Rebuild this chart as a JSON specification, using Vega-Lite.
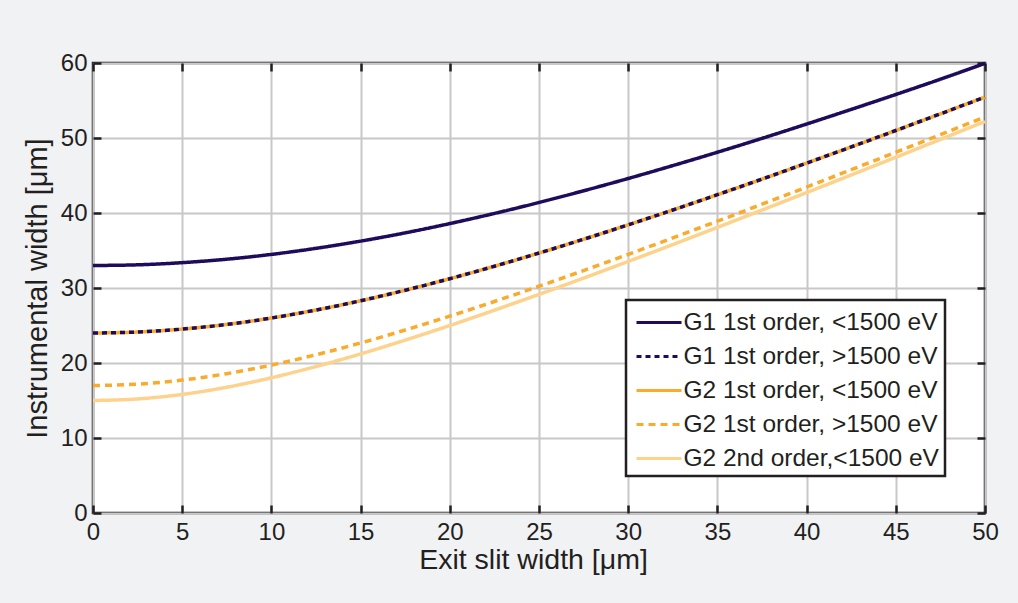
{
  "$schema": "https://vega.github.io/schema/vega-lite/v6.json",
  "width": 892,
  "height": 450,
  "autosize": {"type": "none"},
  "padding": {"left": 93, "top": 63, "right": 33, "bottom": 90},
  "background": "#f1f2f4",
  "data": {
    "values": [
      {"x": 0, "s": "G1 1st order, <1500 eV", "y": 33.0},
      {"x": 2.5, "s": "G1 1st order, <1500 eV", "y": 33.09},
      {"x": 5, "s": "G1 1st order, <1500 eV", "y": 33.38},
      {"x": 7.5, "s": "G1 1st order, <1500 eV", "y": 33.84},
      {"x": 10, "s": "G1 1st order, <1500 eV", "y": 34.48},
      {"x": 12.5, "s": "G1 1st order, <1500 eV", "y": 35.29},
      {"x": 15, "s": "G1 1st order, <1500 eV", "y": 36.25},
      {"x": 17.5, "s": "G1 1st order, <1500 eV", "y": 37.35},
      {"x": 20, "s": "G1 1st order, <1500 eV", "y": 38.59},
      {"x": 22.5, "s": "G1 1st order, <1500 eV", "y": 39.94},
      {"x": 25, "s": "G1 1st order, <1500 eV", "y": 41.4},
      {"x": 27.5, "s": "G1 1st order, <1500 eV", "y": 42.96},
      {"x": 30, "s": "G1 1st order, <1500 eV", "y": 44.6},
      {"x": 32.5, "s": "G1 1st order, <1500 eV", "y": 46.32},
      {"x": 35, "s": "G1 1st order, <1500 eV", "y": 48.1},
      {"x": 37.5, "s": "G1 1st order, <1500 eV", "y": 49.95},
      {"x": 40, "s": "G1 1st order, <1500 eV", "y": 51.86},
      {"x": 42.5, "s": "G1 1st order, <1500 eV", "y": 53.81},
      {"x": 45, "s": "G1 1st order, <1500 eV", "y": 55.8},
      {"x": 47.5, "s": "G1 1st order, <1500 eV", "y": 57.84},
      {"x": 50, "s": "G1 1st order, <1500 eV", "y": 59.95},

      {"x": 0, "s": "G1 1st order, >1500 eV", "y": 24.0},
      {"x": 2.5, "s": "G1 1st order, >1500 eV", "y": 24.13},
      {"x": 5, "s": "G1 1st order, >1500 eV", "y": 24.52},
      {"x": 7.5, "s": "G1 1st order, >1500 eV", "y": 25.14},
      {"x": 10, "s": "G1 1st order, >1500 eV", "y": 26.0},
      {"x": 12.5, "s": "G1 1st order, >1500 eV", "y": 27.06},
      {"x": 15, "s": "G1 1st order, >1500 eV", "y": 28.3},
      {"x": 17.5, "s": "G1 1st order, >1500 eV", "y": 29.7},
      {"x": 20, "s": "G1 1st order, >1500 eV", "y": 31.24},
      {"x": 22.5, "s": "G1 1st order, >1500 eV", "y": 32.9},
      {"x": 25, "s": "G1 1st order, >1500 eV", "y": 34.66},
      {"x": 27.5, "s": "G1 1st order, >1500 eV", "y": 36.5},
      {"x": 30, "s": "G1 1st order, >1500 eV", "y": 38.42},
      {"x": 32.5, "s": "G1 1st order, >1500 eV", "y": 40.4},
      {"x": 35, "s": "G1 1st order, >1500 eV", "y": 42.44},
      {"x": 37.5, "s": "G1 1st order, >1500 eV", "y": 44.52},
      {"x": 40, "s": "G1 1st order, >1500 eV", "y": 46.65},
      {"x": 42.5, "s": "G1 1st order, >1500 eV", "y": 48.81},
      {"x": 45, "s": "G1 1st order, >1500 eV", "y": 51.0},
      {"x": 47.5, "s": "G1 1st order, >1500 eV", "y": 53.22},
      {"x": 50, "s": "G1 1st order, >1500 eV", "y": 55.46},

      {"x": 0, "s": "G2 1st order, <1500 eV", "y": 24.0},
      {"x": 2.5, "s": "G2 1st order, <1500 eV", "y": 24.13},
      {"x": 5, "s": "G2 1st order, <1500 eV", "y": 24.52},
      {"x": 7.5, "s": "G2 1st order, <1500 eV", "y": 25.14},
      {"x": 10, "s": "G2 1st order, <1500 eV", "y": 26.0},
      {"x": 12.5, "s": "G2 1st order, <1500 eV", "y": 27.06},
      {"x": 15, "s": "G2 1st order, <1500 eV", "y": 28.3},
      {"x": 17.5, "s": "G2 1st order, <1500 eV", "y": 29.7},
      {"x": 20, "s": "G2 1st order, <1500 eV", "y": 31.24},
      {"x": 22.5, "s": "G2 1st order, <1500 eV", "y": 32.9},
      {"x": 25, "s": "G2 1st order, <1500 eV", "y": 34.66},
      {"x": 27.5, "s": "G2 1st order, <1500 eV", "y": 36.5},
      {"x": 30, "s": "G2 1st order, <1500 eV", "y": 38.42},
      {"x": 32.5, "s": "G2 1st order, <1500 eV", "y": 40.4},
      {"x": 35, "s": "G2 1st order, <1500 eV", "y": 42.44},
      {"x": 37.5, "s": "G2 1st order, <1500 eV", "y": 44.52},
      {"x": 40, "s": "G2 1st order, <1500 eV", "y": 46.65},
      {"x": 42.5, "s": "G2 1st order, <1500 eV", "y": 48.81},
      {"x": 45, "s": "G2 1st order, <1500 eV", "y": 51.0},
      {"x": 47.5, "s": "G2 1st order, <1500 eV", "y": 53.22},
      {"x": 50, "s": "G2 1st order, <1500 eV", "y": 55.46},

      {"x": 0, "s": "G2 1st order, >1500 eV", "y": 17.0},
      {"x": 2.5, "s": "G2 1st order, >1500 eV", "y": 17.18},
      {"x": 5, "s": "G2 1st order, >1500 eV", "y": 17.72},
      {"x": 7.5, "s": "G2 1st order, >1500 eV", "y": 18.58},
      {"x": 10, "s": "G2 1st order, >1500 eV", "y": 19.72},
      {"x": 12.5, "s": "G2 1st order, >1500 eV", "y": 21.1},
      {"x": 15, "s": "G2 1st order, >1500 eV", "y": 22.67},
      {"x": 17.5, "s": "G2 1st order, >1500 eV", "y": 24.4},
      {"x": 20, "s": "G2 1st order, >1500 eV", "y": 26.25},
      {"x": 22.5, "s": "G2 1st order, >1500 eV", "y": 28.2},
      {"x": 25, "s": "G2 1st order, >1500 eV", "y": 30.23},
      {"x": 27.5, "s": "G2 1st order, >1500 eV", "y": 32.33},
      {"x": 30, "s": "G2 1st order, >1500 eV", "y": 34.48},
      {"x": 32.5, "s": "G2 1st order, >1500 eV", "y": 36.68},
      {"x": 35, "s": "G2 1st order, >1500 eV", "y": 38.91},
      {"x": 37.5, "s": "G2 1st order, >1500 eV", "y": 41.17},
      {"x": 40, "s": "G2 1st order, >1500 eV", "y": 43.46},
      {"x": 42.5, "s": "G2 1st order, >1500 eV", "y": 45.77},
      {"x": 45, "s": "G2 1st order, >1500 eV", "y": 48.1},
      {"x": 47.5, "s": "G2 1st order, >1500 eV", "y": 50.45},
      {"x": 50, "s": "G2 1st order, >1500 eV", "y": 52.81},

      {"x": 0, "s": "G2 2nd order,<1500 eV", "y": 15.0},
      {"x": 2.5, "s": "G2 2nd order,<1500 eV", "y": 15.21},
      {"x": 5, "s": "G2 2nd order,<1500 eV", "y": 15.81},
      {"x": 7.5, "s": "G2 2nd order,<1500 eV", "y": 16.77},
      {"x": 10, "s": "G2 2nd order,<1500 eV", "y": 18.03},
      {"x": 12.5, "s": "G2 2nd order,<1500 eV", "y": 19.53},
      {"x": 15, "s": "G2 2nd order,<1500 eV", "y": 21.21},
      {"x": 17.5, "s": "G2 2nd order,<1500 eV", "y": 23.05},
      {"x": 20, "s": "G2 2nd order,<1500 eV", "y": 25.0},
      {"x": 22.5, "s": "G2 2nd order,<1500 eV", "y": 27.04},
      {"x": 25, "s": "G2 2nd order,<1500 eV", "y": 29.15},
      {"x": 27.5, "s": "G2 2nd order,<1500 eV", "y": 31.32},
      {"x": 30, "s": "G2 2nd order,<1500 eV", "y": 33.54},
      {"x": 32.5, "s": "G2 2nd order,<1500 eV", "y": 35.79},
      {"x": 35, "s": "G2 2nd order,<1500 eV", "y": 38.08},
      {"x": 37.5, "s": "G2 2nd order,<1500 eV", "y": 40.39},
      {"x": 40, "s": "G2 2nd order,<1500 eV", "y": 42.72},
      {"x": 42.5, "s": "G2 2nd order,<1500 eV", "y": 45.07},
      {"x": 45, "s": "G2 2nd order,<1500 eV", "y": 47.43},
      {"x": 47.5, "s": "G2 2nd order,<1500 eV", "y": 49.81},
      {"x": 50, "s": "G2 2nd order,<1500 eV", "y": 52.2}
    ]
  },
  "encoding": {
    "x": {"field": "x", "type": "quantitative", "scale": {"domain": [0, 50], "nice": false, "zero": false}},
    "y": {"field": "y", "type": "quantitative", "scale": {"domain": [0, 60], "nice": false}},
    "color": {
      "field": "s",
      "type": "nominal",
      "scale": {
        "domain": ["G1 1st order, <1500 eV", "G1 1st order, >1500 eV", "G2 1st order, <1500 eV", "G2 1st order, >1500 eV", "G2 2nd order,<1500 eV"],
        "range": ["#1e0b5b", "#1e0b5b", "#fbab2c", "#fbab2c", "#fdd28c"]
      },
      "legend": {"title": null}
    },
    "strokeDash": {
      "field": "s",
      "type": "nominal",
      "scale": {
        "domain": ["G1 1st order, <1500 eV", "G1 1st order, >1500 eV", "G2 1st order, <1500 eV", "G2 1st order, >1500 eV", "G2 2nd order,<1500 eV"],
        "range": [[1, 0], [5, 4], [1, 0], [7, 5], [1, 0]]
      },
      "legend": {"title": null}
    }
  },
  "layer": [
    {
      "transform": [{"filter": "datum.s === 'G2 1st order, <1500 eV'"}],
      "mark": {"type": "line", "strokeWidth": 3.5, "interpolate": "monotone"},
      "encoding": {
        "x": {
          "field": "x", "type": "quantitative", "title": "Exit slit width [\u03bcm]",
          "axis": {"orient": "bottom", "values": [0, 5, 10, 15, 20, 25, 30, 35, 40, 45, 50], "grid": true, "tickSize": -8, "labelPadding": 15, "titlePadding": 1, "titleFontSize": 28.5, "titleX": 440}
        },
        "y": {
          "field": "y", "type": "quantitative", "title": "Instrumental width [\u03bcm]",
          "axis": {"orient": "left", "values": [0, 10, 20, 30, 40, 50, 60], "grid": true, "tickSize": -8, "labelPadding": 14, "titlePadding": 8, "titleFontSize": 29}
        }
      }
    },
    {
      "transform": [{"filter": "datum.s !== 'G2 1st order, <1500 eV'"}],
      "mark": {"type": "line", "strokeWidth": 3.5, "interpolate": "monotone"},
      "encoding": {
        "x": {
          "field": "x", "type": "quantitative",
          "axis": {"orient": "top", "values": [0, 5, 10, 15, 20, 25, 30, 35, 40, 45, 50], "grid": false, "labels": false, "title": null, "tickSize": -8}
        },
        "y": {
          "field": "y", "type": "quantitative",
          "axis": {"orient": "right", "values": [0, 10, 20, 30, 40, 50, 60], "grid": false, "labels": false, "title": null, "tickSize": -8}
        }
      }
    }
  ],
  "resolve": {"axis": {"x": "independent", "y": "independent"}},
  "config": {
    "font": "Liberation Sans",
    "view": {"stroke": "#231f20", "strokeWidth": 2.5, "fill": "white"},
    "axis": {
      "domain": false,
      "gridColor": "#c8c8c8",
      "gridWidth": 2,
      "gridOpacity": 1,
      "tickColor": "#231f20",
      "tickWidth": 2.5,
      "labelFont": "Liberation Sans",
      "labelFontSize": 24,
      "labelColor": "#231f20",
      "titleFont": "Liberation Sans",
      "titleFontWeight": "normal",
      "titleColor": "#231f20",
      "labelFlush": false
    },
    "legend": {
      "orient": "none",
      "legendX": 533,
      "legendY": 237,
      "fillColor": "white",
      "strokeColor": "#231f20",
      "strokeWidth": 2.5,
      "padding": 6,
      "symbolType": "M-1.5,0H1.5",
      "symbolSize": 900,
      "symbolOffset": 10.5,
      "symbolStrokeWidth": 3,
      "rowPadding": 6,
      "labelOffset": 8,
      "labelFont": "Liberation Sans",
      "labelFontSize": 24.5,
      "labelColor": "#231f20",
      "labelLimit": 400
    }
  }
}
